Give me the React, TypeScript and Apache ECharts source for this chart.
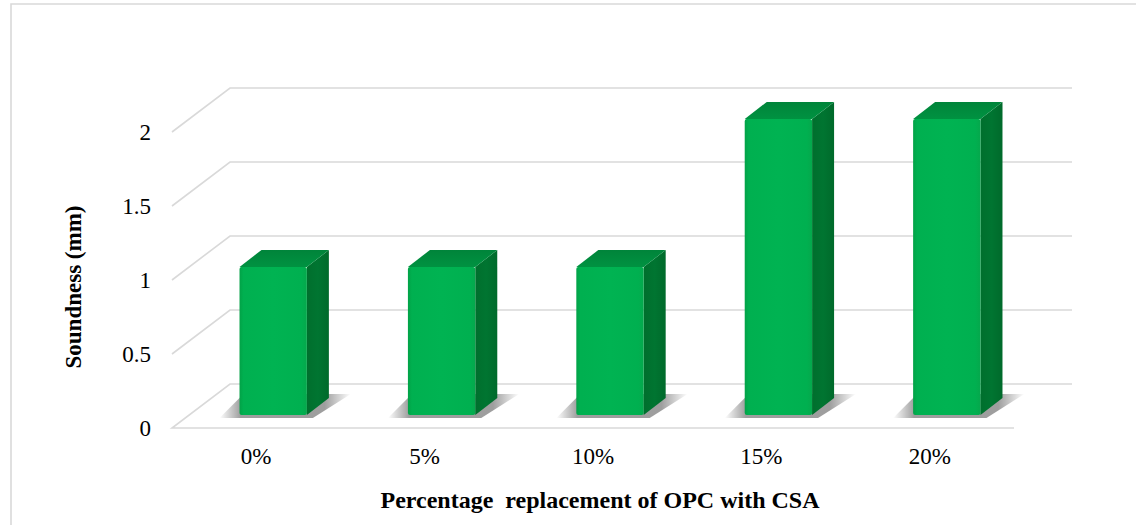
import React, { useEffect, useRef } from "react";
import * as echarts from "echarts";

// Chart data
const categories = ["0%", "5%", "10%", "15%", "20%"];
const soundness = [1, 1, 1, 2, 2];
const yTicks = [0, 0.5, 1, 1.5, 2];

const FONT = "'Liberation Serif', 'Times New Roman', serif";
const GRID_COLOR = "#d9d9d9";

// Oblique projection: depth of the floor / walls, bar placement in depth
const DEPTH_X = 58;
const DEPTH_Y = -44;
const BAR_OFF_X = 17;
const BAR_OFF_Y = -13;
const BAR_DX = 22;
const BAR_DY = -17;
const BAR_RATIO = 0.4;

export default function App() {
  const ref = useRef<HTMLDivElement>(null);

  useEffect(() => {
    if (!ref.current) return;
    const chart = echarts.init(ref.current, null, { renderer: "svg" });

    const gridRender = (params: any, api: any) => {
      const cs = params.coordSys;
      const v = api.value(1);
      const y = api.coord([0, v])[1];
      const x0 = cs.x;
      const x1 = cs.x + cs.width;
      const pts =
        v === 0
          ? [
              [x1, y],
              [x0, y],
              [x0 + DEPTH_X, y + DEPTH_Y],
              [x1 + DEPTH_X, y + DEPTH_Y],
            ]
          : [
              [x0, y],
              [x0 + DEPTH_X, y + DEPTH_Y],
              [x1 + DEPTH_X, y + DEPTH_Y],
            ];
      return {
        type: "polyline",
        shape: { points: pts },
        style: { stroke: GRID_COLOR, lineWidth: 1.6, fill: null },
        silent: true,
      };
    };

    const barRender = (params: any, api: any) => {
      const i = api.value(0);
      const v = api.value(1);
      const base = api.coord([i, 0]);
      const top = api.coord([i, v]);
      const band = api.size([1, 0])[0];
      const w = band * BAR_RATIO;
      const xl = base[0] + BAR_OFF_X - w / 2;
      const xr = xl + w;
      const yb = base[1] + BAR_OFF_Y;
      const yt = top[1] + BAR_OFF_Y;

      const frontFill = new echarts.graphic.LinearGradient(0, 0, 1, 0, [
        { offset: 0, color: "#02a247" },
        { offset: 0.06, color: "#00b050" },
        { offset: 0.5, color: "#00b352" },
        { offset: 0.92, color: "#00b050" },
        { offset: 1, color: "#05a84c" },
      ]);
      const sideFill = new echarts.graphic.LinearGradient(0, 0, 1, 0, [
        { offset: 0, color: "#006f2d" },
        { offset: 0.5, color: "#007531" },
        { offset: 1, color: "#006a2b" },
      ]);
      const topFill = new echarts.graphic.LinearGradient(0, 1, 0, 0, [
        { offset: 0, color: "#009241" },
        { offset: 1, color: "#00843a" },
      ]);
      // soft floor shadow, fading out at its left and right ends
      const shadowFill = new echarts.graphic.LinearGradient(0, 0, 1, 0, [
        { offset: 0, color: "rgba(0,0,0,0)" },
        { offset: 0.16, color: "rgba(0,0,0,0.38)" },
        { offset: 0.8, color: "rgba(0,0,0,0.38)" },
        { offset: 1, color: "rgba(0,0,0,0)" },
      ]);

      return {
        type: "group",
        children: [
          {
            type: "polygon",
            shape: {
              points: [
                [xl - 20, yb + 3],
                [xr + 6, yb + 3],
                [xr + BAR_DX + 22, yb + BAR_DY - 4],
                [xl + 4, yb + BAR_DY - 4],
              ],
            },
            style: { fill: shadowFill },
            silent: true,
          },
          {
            type: "polygon",
            shape: {
              points: [
                [xr, yt],
                [xr + BAR_DX, yt + BAR_DY],
                [xr + BAR_DX, yb + BAR_DY],
                [xr, yb],
              ],
            },
            style: { fill: sideFill },
          },
          {
            type: "polygon",
            shape: {
              points: [
                [xl, yt],
                [xl + BAR_DX, yt + BAR_DY],
                [xr + BAR_DX, yt + BAR_DY],
                [xr, yt],
              ],
            },
            style: { fill: topFill },
          },
          {
            type: "rect",
            shape: { x: xl, y: yt, width: w, height: yb - yt, r: 2 },
            style: { fill: frontFill },
          },
        ],
      };
    };

    chart.setOption({
      animation: false,
      backgroundColor: "#ffffff",
      grid: { left: 172, right: 122, top: 132, bottom: 97, containLabel: false },
      xAxis: {
        type: "category",
        data: categories,
        axisLine: { show: false },
        axisTick: { show: false },
        splitLine: { show: false },
        axisLabel: {
          margin: 17,
          fontFamily: FONT,
          fontSize: 23,
          color: "#000",
        },
      },
      yAxis: {
        type: "value",
        min: 0,
        max: 2,
        interval: 0.5,
        axisLine: { show: false },
        axisTick: { show: false },
        splitLine: { show: false },
        axisLabel: {
          margin: 21,
          fontFamily: FONT,
          fontSize: 23,
          color: "#000",
        },
      },
      graphic: [
        {
          type: "rect",
          shape: { x: 11, y: 4, width: 1300, height: 700 },
          style: { fill: "none", stroke: "#d9d9d9", lineWidth: 1.6 },
          silent: true,
          z: -10,
        },
        {
          type: "text",
          x: 73,
          y: 287,
          rotation: Math.PI / 2,
          style: {
            text: "Soundness (mm)",
            fontFamily: FONT,
            fontWeight: "bold",
            fontSize: 23,
            fill: "#000",
            align: "center",
            verticalAlign: "middle",
          },
          silent: true,
        },
        {
          type: "text",
          x: 600,
          y: 500,
          style: {
            text: "Percentage \u00a0replacement of OPC with CSA",
            fontFamily: FONT,
            fontWeight: "bold",
            fontSize: 24,
            fill: "#000",
            align: "center",
            verticalAlign: "middle",
          },
          silent: true,
        },
      ],
      series: [
        {
          type: "custom",
          name: "grid",
          renderItem: gridRender,
          data: yTicks.map((v) => [0, v]),
          silent: true,
          z: 1,
        },
        {
          type: "custom",
          name: "Soundness",
          renderItem: barRender,
          data: soundness.map((v, i) => [i, v]),
          z: 2,
        },
      ],
    });

    return () => chart.dispose();
  }, []);

  return (
    <div
      ref={ref}
      style={{
        position: "fixed",
        left: 0,
        top: 0,
        width: 1136,
        height: 525,
        background: "#fff",
      }}
    />
  );
}
